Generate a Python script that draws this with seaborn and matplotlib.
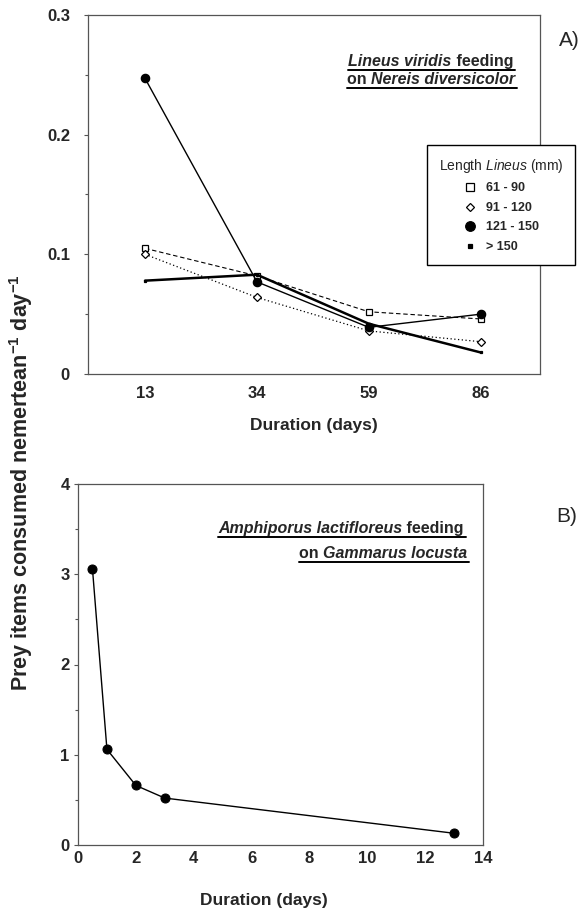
import matplotlib
matplotlib.use("Agg")
import pandas as pd
import seaborn as sns
import matplotlib.pyplot as plt
from matplotlib.lines import Line2D
from matplotlib.ticker import MultipleLocator, FixedLocator, FixedFormatter

# ---- data, panel A (Lineus viridis on Nereis diversicolor) ----
durations_a = ["13", "34", "59", "86"]
size_classes = ["61 - 90", "91 - 120", "121 - 150", "> 150"]
len_61_90 = [0.105, 0.082, 0.052, 0.046]
len_91_120 = [0.100, 0.064, 0.036, 0.027]
len_121_150 = [0.247, 0.077, 0.039, 0.050]
len_over_150 = [0.078, 0.083, 0.042, 0.018]

# ---- data, panel B (Amphiporus lactifloreus on Gammarus locusta) ----
durations_b = [0.5, 1, 2, 3, 13]
prey_b = [3.06, 1.06, 0.66, 0.52, 0.13]

sns.set_style("white")
plt.rcParams["font.family"] = ["Liberation Sans", "DejaVu Sans"]
plt.rcParams["mathtext.fontset"] = "custom"
plt.rcParams["mathtext.rm"] = "Liberation Sans"
plt.rcParams["mathtext.it"] = "Liberation Sans:italic"
plt.rcParams["mathtext.bf"] = "Liberation Sans:bold"

W, H = 582, 915
fig = plt.figure(figsize=(W / 100, H / 100), dpi=100)
ax_a = fig.add_axes([88 / W, 1 - 374 / H, (540 - 88) / W, (374 - 15) / H])
ax_b = fig.add_axes([78 / W, 1 - 845 / H, (483 - 78) / W, (845 - 484) / H])

df_a = pd.DataFrame({
    "duration": durations_a * 4,
    "rate": len_61_90 + len_91_120 + len_121_150 + len_over_150,
    "size": [s for s in size_classes for _ in durations_a],
})

styles = {
    "61 - 90": dict(marker="s", markersize=5, markerfacecolor="white", linestyle=(0, (4, 2.5)), linewidth=0.8),
    "91 - 120": dict(marker="D", markersize=3.6, markerfacecolor="white", linestyle=(0, (1, 2)), linewidth=0.9),
    "121 - 150": dict(marker="o", markersize=6, markerfacecolor="black", linestyle="-", linewidth=1.0),
    "> 150": dict(marker="s", markersize=2, markerfacecolor="black", linestyle="-", linewidth=1.8),
}

for s in size_classes:
    sub = df_a[df_a["size"] == s]
    sns.lineplot(data=sub, x="duration", y="rate", ax=ax_a, color="black",
                 markeredgecolor="black", markeredgewidth=0.9, sort=False, **styles[s])

ax_a.set_ylim(0, 0.3)
ax_a.set_xlim(-0.51, 3.53)
ax_a.yaxis.set_major_locator(FixedLocator([0, 0.1, 0.2, 0.3]))
ax_a.yaxis.set_major_formatter(FixedFormatter(["0", "0.1", "0.2", "0.3"]))
ax_a.yaxis.set_minor_locator(MultipleLocator(0.05))
ax_a.set_xlabel("")
ax_a.set_ylabel("")

handles = [Line2D([], [], color="black", linestyle="none", marker=styles[s]["marker"],
                  markersize=styles[s]["markersize"] * 1.15, markerfacecolor=styles[s]["markerfacecolor"],
                  markeredgecolor="black", markeredgewidth=0.9) for s in size_classes]
leg = ax_a.legend(handles, size_classes, title=r"Length $\mathit{Lineus}$ (mm)",
                  loc="upper left", bbox_to_anchor=(427 / W, 1 - 145 / H), bbox_transform=fig.transFigure,
                  borderaxespad=0, prop={"weight": "bold", "size": 9}, title_fontsize=10,
                  frameon=True, fancybox=False, edgecolor="black", framealpha=1,
                  borderpad=0.95, labelspacing=0.6, handlelength=1.0, handletextpad=0.8,
                  alignment="center")
leg.get_frame().set_linewidth(1.0)

# ---- panel B ----
df_b = pd.DataFrame({"duration": durations_b, "prey": prey_b})
sns.lineplot(data=df_b, x="duration", y="prey", ax=ax_b, color="black", linewidth=1.0,
             marker="o", markersize=6.5, markeredgecolor="black", markerfacecolor="black")
ax_b.set_xlim(0, 14)
ax_b.set_ylim(0, 4)
ax_b.xaxis.set_major_locator(MultipleLocator(2))
ax_b.yaxis.set_major_locator(MultipleLocator(1))
ax_b.yaxis.set_minor_locator(MultipleLocator(0.5))
ax_b.set_xlabel("")
ax_b.set_ylabel("")

for ax in (ax_a, ax_b):
    for sp in ax.spines.values():
        sp.set_visible(True)
        sp.set_color("#555555")
        sp.set_linewidth(0.9)
    ax.tick_params(axis="y", which="major", left=True, length=3, width=0.8, color="#555555",
                   labelsize=12, pad=3)
    ax.tick_params(axis="y", which="minor", left=True, length=2, width=0.8, color="#555555")
    ax.tick_params(axis="x", bottom=False, labelsize=12)
    for lab in ax.get_xticklabels() + ax.get_yticklabels():
        lab.set_fontweight("bold")
ax_a.tick_params(axis="x", pad=5)
ax_a.tick_params(axis="y", which="major", pad=10)
ax_b.tick_params(axis="x", pad=1)

# axis titles
fig.text(314 / W, 1 - 425 / H, "Duration (days)", fontsize=12.5, fontweight="bold", ha="center", va="center")
fig.text(264 / W, 1 - 900 / H, "Duration (days)", fontsize=12.5, fontweight="bold", ha="center", va="center")
fig.text(21 / W, 1 - 483 / H, r"Prey items consumed nemertean$^{\mathbf{-1}}$ day$^{\mathbf{-1}}$",
         fontsize=15.5, fontweight="bold", rotation=90, ha="center", va="center")
fig.text(569 / W, 1 - 40 / H, "A)", fontsize=15, ha="center", va="center")
fig.text(567 / W, 1 - 516 / H, "B)", fontsize=15, ha="center", va="center")


def underlined_line(x_right, y_base, parts, size=11.5):
    renderer = fig.canvas.get_renderer()
    pieces = [fig.text(0, 1 - y_base / H, txt, fontsize=size, fontweight="bold", fontstyle=st,
                       ha="left", va="baseline") for txt, st in parts]
    widths = [p.get_window_extent(renderer).width for p in pieces]
    x = x_right - sum(widths)
    x0 = x
    for p, w in zip(pieces, widths):
        p.set_x(x / W)
        x += w
    fig.add_artist(Line2D([x0 / W, (x_right + 2) / W], [1 - (y_base + 3.5) / H] * 2,
                          color="black", linewidth=1.4))


underlined_line(513, 66, [("Lineus viridis", "italic"), (" feeding", "normal")])
underlined_line(515, 84, [("on ", "normal"), ("Nereis diversicolor", "italic")])
underlined_line(464, 533, [("Amphiporus lactifloreus", "italic"), (" feeding", "normal")])
underlined_line(467, 558, [("on ", "normal"), ("Gammarus locusta", "italic")])

fig.savefig("out.png", dpi=100)
